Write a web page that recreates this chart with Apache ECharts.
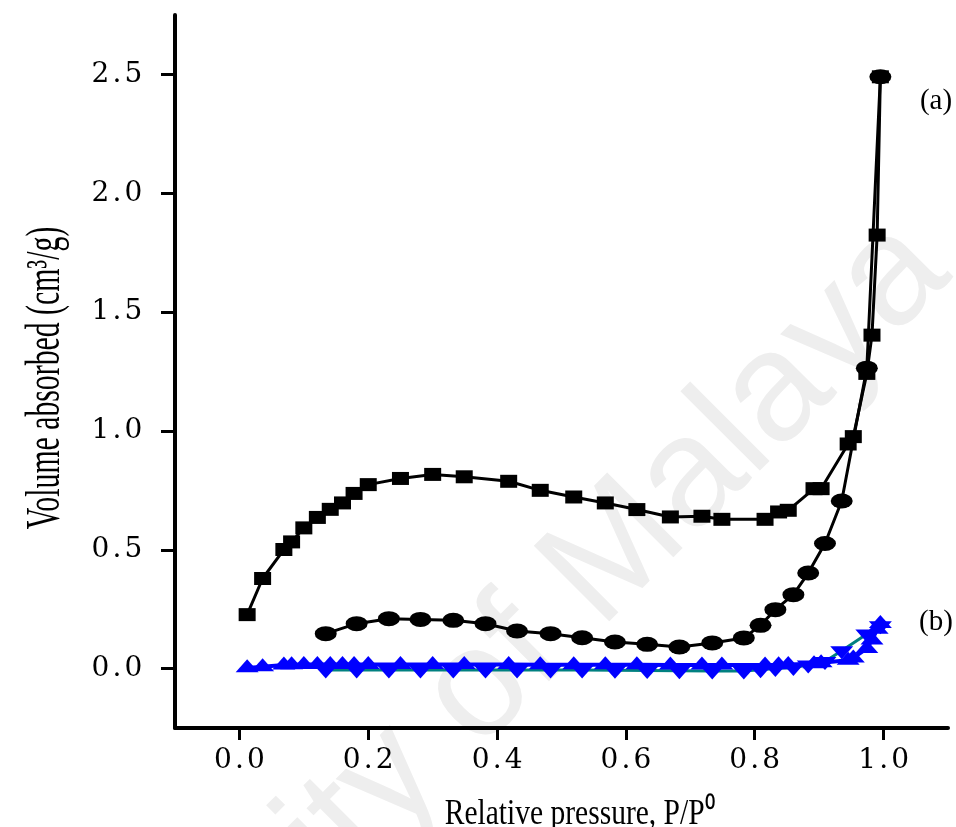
<!DOCTYPE html>
<html><head><meta charset="utf-8">
<script src="https://cdn.jsdelivr.net/npm/echarts@6/dist/echarts.min.js"></script>
<style>html,body{margin:0;padding:0;background:#fff}#c{width:956px;height:827px}</style>
</head><body><div id="c"></div>
<script>
// Sample (a) adsorption (squares) and desorption (circles)
const adsX = [0.012,0.036,0.069,0.081,0.100,0.121,0.141,0.160,0.178,0.200,0.250,0.300,0.349,0.418,0.467,0.519,0.568,0.617,0.669,0.718,0.749,0.816,0.837,0.852,0.892,0.903,0.945,0.953,0.974,0.982,0.990,0.995];
const adsA = [0.227,0.379,0.501,0.533,0.592,0.636,0.670,0.697,0.737,0.774,0.800,0.817,0.807,0.788,0.750,0.722,0.697,0.669,0.638,0.641,0.628,0.628,0.659,0.666,0.757,0.757,0.945,0.976,1.242,1.403,1.824,2.490];
const desX = [0.134,0.182,0.232,0.281,0.332,0.382,0.431,0.483,0.532,0.583,0.633,0.683,0.734,0.783,0.809,0.832,0.860,0.883,0.909,0.935,0.974,0.995];
const desA = [0.147,0.189,0.210,0.207,0.203,0.189,0.158,0.147,0.130,0.112,0.102,0.091,0.108,0.129,0.182,0.248,0.311,0.402,0.526,0.705,1.264,2.490];
// Sample (b) adsorption (up triangles) and desorption (down triangles)
const adsB = [0.003,0.008,0.015,0.016,0.017,0.017,0.017,0.017,0.017,0.017,0.017,0.017,0.017,0.017,0.016,0.016,0.016,0.016,0.015,0.015,0.015,0.015,0.016,0.017,0.020,0.025,0.035,0.045,0.085,0.120,0.165,0.190];
const desB = [-0.006,-0.006,-0.006,-0.006,-0.006,-0.006,-0.006,-0.006,-0.006,-0.007,-0.008,-0.009,-0.010,-0.010,-0.005,0.000,0.005,0.015,0.030,0.075,0.145,0.180];
const xTicks = [0.0,0.2,0.4,0.6,0.8,1.0];
const yTicks = [0.0,0.5,1.0,1.5,2.0,2.5];
const xTitle = 'Relative pressure, P/P\u2070';
const yTitle = 'Volume absorbed (cm\u00B3/g)';
const labelA = '(a)', labelB = '(b)';
const watermark = 'University of Malaya';

function pairs(xs, ys){ return xs.map((x,i)=>[x, ys[i]]); }
function fmt(v){ return v.toFixed(1).split('').map(c => c === '.' ? '{p|.}' : '{d|' + c + '}').join(''); }
const rich = {
  d:{width:19, align:'center', fontFamily:'DejaVu Serif', fontSize:28, color:'#000'},
  p:{width:14, align:'center', fontFamily:'DejaVu Serif', fontSize:28, color:'#000'}
};
const chart = echarts.init(document.getElementById('c'), null, {renderer:'canvas'});
const downTri = 'path://M0,0L10,0L5,10Z';
chart.setOption({
  animation:false,
  backgroundColor:'#fff',
  grid:{left:175, right:8, top:15, bottom:99},
  xAxis:{type:'value', min:-0.1, max:1.1,
    axisLine:{show:true, onZero:false, lineStyle:{color:'#000', width:4}},
    axisTick:{show:true, customValues:xTicks, length:12, inside:false, lineStyle:{color:'#000', width:3}},
    axisLabel:{customValues:xTicks, margin:19, formatter:fmt, rich:rich},
    splitLine:{show:false}},
  yAxis:{type:'value', min:-0.25, max:2.75,
    axisLine:{show:true, onZero:false, lineStyle:{color:'#000', width:4}},
    axisTick:{show:true, customValues:yTicks, length:14, inside:false, lineStyle:{color:'#000', width:3}},
    axisLabel:{customValues:yTicks, margin:32, formatter:fmt, rich:rich},
    splitLine:{show:false}},
  graphic:[
    {type:'text', z:-10, x:430, y:740, rotation:Math.PI/4,
      style:{text:watermark, font:'155px "Liberation Sans"', fill:'#eeeeee', align:'center', verticalAlign:'middle'}},
    {type:'text', x:46, y:378, rotation:Math.PI/2, scaleX:0.62,
      style:{text:yTitle, font:'48px "Liberation Serif"', fill:'#000', align:'center', verticalAlign:'middle'}},
    {type:'text', x:580, y:815, scaleX:0.82,
      style:{text:xTitle, font:'36px "Liberation Serif"', fill:'#000', align:'center', verticalAlign:'middle'}},
    {type:'text', x:936, y:101,
      style:{text:labelA, font:'29px "Liberation Serif"', fill:'#000', align:'center', verticalAlign:'middle'}},
    {type:'text', x:936, y:622,
      style:{text:labelB, font:'29px "Liberation Serif"', fill:'#000', align:'center', verticalAlign:'middle'}}
  ],
  series:[
    {type:'line', data:pairs(desX, desB), symbol:downTri, symbolSize:[23,13], symbolOffset:[0,2], z:3,
      itemStyle:{color:'#0000ff'}, lineStyle:{color:'#008080', width:3}},
    {type:'line', data:pairs(adsX, adsB), symbol:'triangle', symbolSize:[23,13], symbolOffset:[0,-2], z:4,
      itemStyle:{color:'#0000ff'}, lineStyle:{color:'#0000ff', width:4}},
    {type:'line', data:pairs(desX, desA), symbol:'circle', symbolSize:[22,15], z:5,
      itemStyle:{color:'#000'}, lineStyle:{color:'#000', width:3}},
    {type:'line', data:pairs(adsX, adsA), symbol:'rect', symbolSize:[17,13], z:6,
      itemStyle:{color:'#000'}, lineStyle:{color:'#000', width:3}}
  ]
});
</script></body></html>
